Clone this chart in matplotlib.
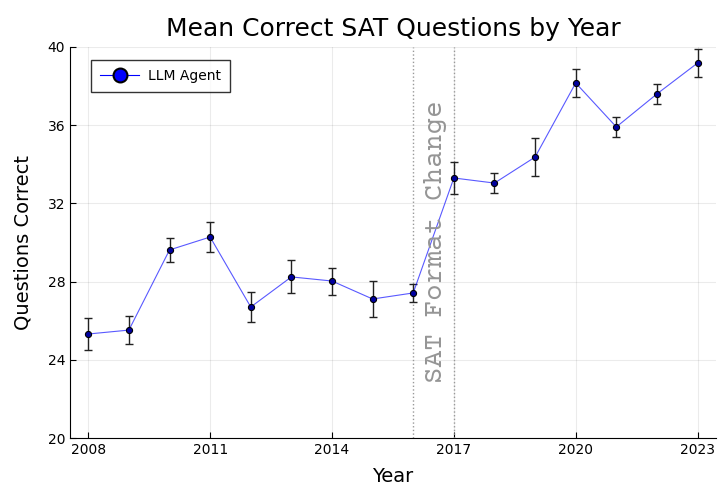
import matplotlib.pyplot as plt
from matplotlib.lines import Line2D

years = [2008, 2009, 2010, 2011, 2012, 2013, 2014, 2015, 2016, 2017, 2018, 2019, 2020, 2021, 2022, 2023]
mean_correct = [25.32, 25.52, 29.62, 30.28, 26.70, 28.24, 28.03, 27.11, 27.42, 33.30, 33.04, 34.37, 38.16, 35.91, 37.60, 39.18]
err = [0.82, 0.72, 0.60, 0.77, 0.77, 0.84, 0.69, 0.90, 0.46, 0.82, 0.51, 0.95, 0.72, 0.49, 0.51, 0.74]
xticks = [2008, 2011, 2014, 2017, 2020, 2023]
yticks = [20, 24, 28, 32, 36, 40]
change_years = [2016, 2017]

fig = plt.figure(figsize=(7.18, 4.87), dpi=100)
ax = fig.add_axes([0.0975, 0.1006, 0.8995, 0.8029])

# error bars, line and points
ax.errorbar(years, mean_correct, yerr=err, fmt='none', ecolor='#222222', elinewidth=1.0,
            capsize=3, capthick=1.0, zorder=2)
ax.plot(years, mean_correct, color='blue', alpha=0.65, linewidth=0.8, zorder=3)
ax.plot(years, mean_correct, linestyle='none', marker='o', markersize=4.4,
        markerfacecolor='#0000a0', markeredgecolor='black', markeredgewidth=0.8, zorder=4)

# format change window
for yr in change_years:
    ax.axvline(yr, color='#999999', linestyle=':', linewidth=1.0, zorder=1)
ax.text(2016.56, 30.05, 'SAT Format Change', rotation=90, ha='center', va='center',
        family=['Courier Prime', 'Cutive Mono', 'DejaVu Sans Mono'],
        fontsize=20, color='#959595')

ax.set_xlim(2007.55, 2023.45)
ax.set_ylim(20, 40)
ax.set_xticks(xticks)
ax.set_yticks(yticks)
ax.tick_params(direction='in', labelsize=10, length=4, width=0.8)
ax.grid(True, color='black', alpha=0.08, linewidth=0.8)
ax.set_axisbelow(True)
for side in ['top', 'right']:
    ax.spines[side].set_visible(False)

ax.set_title('Mean Correct SAT Questions by Year', fontsize=18, pad=8)
ax.set_xlabel('Year', fontsize=14, labelpad=7)
ax.set_ylabel('Questions Correct', fontsize=14, labelpad=11)

handle = Line2D([0], [0], color='blue', linewidth=0.8, marker='o', markersize=10,
                markerfacecolor='blue', markeredgecolor='black', markeredgewidth=1.5)
leg = ax.legend([handle], ['LLM Agent'], loc='upper left', bbox_to_anchor=(0.033, 0.967),
                borderaxespad=0, fontsize=10, frameon=True, fancybox=False,
                edgecolor='black', borderpad=0.65, handlelength=2.8, handletextpad=0.6)
leg.get_frame().set_linewidth(1.0)

plt.savefig('out.png', dpi=100)
